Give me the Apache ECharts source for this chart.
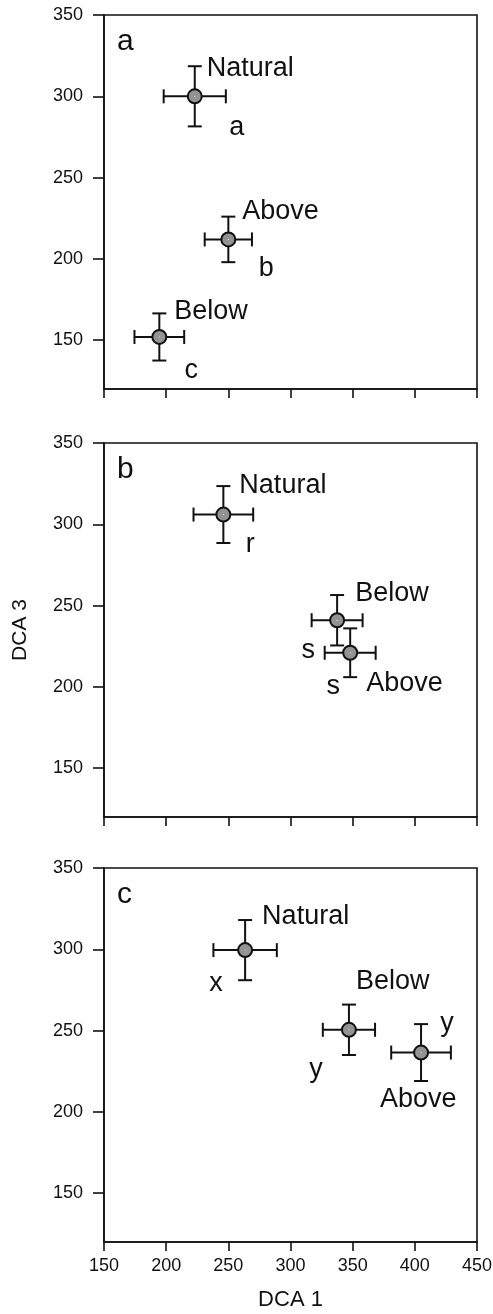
<!DOCTYPE html>
<html>
<head>
<meta charset="utf-8">
<script src="https://cdn.jsdelivr.net/npm/echarts@6/dist/echarts.min.js"></script>
<style>
html,body{margin:0;padding:0;background:#fff;}
#chart{width:493px;height:1314px;}
</style>
</head>
<body>
<div id="chart"></div>
<script>
// ---- data ----
const panelLetters = ['a', 'b', 'c'];
const siteNames = ['Natural', 'Above', 'Below'];
const xTicks = [150, 200, 250, 300, 350, 400, 450];
const yTicks = [150, 200, 250, 300, 350];
// DCA 1 means (per panel, order: Natural, Above, Below)
const dca1A = [223, 250, 194.5];
const dca1B = [246, 348, 337.5];
const dca1C = [263.5, 405, 347];
// DCA 3 means
const dca3A = [300, 212, 152];
const dca3B = [306, 221, 241];
const dca3C = [299.5, 236.5, 250.5];
// DCA 1 error (+/-)
const err1A = [25, 19, 20];
const err1B = [24, 20.5, 20.5];
const err1C = [25.5, 24, 21];
// DCA 3 error (+/-)
const err3A = [18.5, 14, 14.5];
const err3B = [17.5, 15, 15.5];
const err3C = [18.5, 17.5, 15.5];
// significance letters
const sigA = ['a', 'b', 'c'];
const sigB = ['r', 's', 's'];
const sigC = ['x', 'y', 'y'];

// ---- styling (label offsets relative to the point, in px) ----
const nameOffsets = [
  [[12, -28], [14, -28], [15, -25]],
  [[16, -29], [16, 31], [18, -27]],
  [[17, -34], [-41, 47], [7, -48]]
];
const sigOffsets = [
  [[42, 31], [38, 29], [32, 34]],
  [[27, 30], [-17, 34], [-29, 30]],
  [[-29, 33], [26, -29], [-33, 40]]
];

const panels = [
  {x: dca1A, y: dca3A, ex: err1A, ey: err3A, sig: sigA},
  {x: dca1B, y: dca3B, ex: err1B, ey: err3B, sig: sigB},
  {x: dca1C, y: dca3C, ex: err1C, ey: err3C, sig: sigC}
];
const gridTops = [15, 443, 868];
const gridH = 374;

const font = 'Liberation Sans, Arial, Helvetica, sans-serif';
const grids = [], xAxes = [], yAxes = [], series = [];

function textLabel(text, offset, align) {
  return {
    show: true, position: 'inside', align: align, verticalAlign: 'middle',
    offset: offset, formatter: text, opacity: 1,
    color: '#111', fontSize: 27, fontFamily: font,
    textBorderWidth: 0, textShadowBlur: 0
  };
}

panels.forEach((p, i) => {
  grids.push({
    left: 104, right: 16, top: gridTops[i], height: gridH,
    outerBoundsMode: 'none', containLabel: false,
    show: true, borderColor: '#111', borderWidth: 1.6, backgroundColor: 'transparent'
  });
  xAxes.push({
    type: 'value', gridIndex: i, min: 150, max: 450, interval: 50,
    axisLine: {show: true, onZero: false, lineStyle: {color: '#111', width: 1.6}},
    axisTick: {show: true, inside: false, length: 9, lineStyle: {color: '#111', width: 1.6}},
    axisLabel: {show: i === 2, color: '#111', fontSize: 18, fontFamily: font, margin: 15,
      formatter: v => xTicks.includes(v) ? String(v) : ''},
    splitLine: {show: false},
    name: i === 2 ? 'DCA 1' : '', nameLocation: 'middle', nameGap: 47,
    nameTextStyle: {color: '#111', fontSize: 22, fontFamily: font}
  });
  yAxes.push({
    type: 'value', gridIndex: i, min: 120, max: 350,
    interval: 50,
    customValues: yTicks,
    axisLine: {show: true, onZero: false, lineStyle: {color: '#111', width: 1.6}},
    axisTick: {show: true, inside: false, length: 11, lineStyle: {color: '#111', width: 1.6}, customValues: yTicks},
    axisLabel: {show: true, color: '#111', fontSize: 18, fontFamily: font, margin: 21, customValues: yTicks,
      formatter: v => String(v)},
    splitLine: {show: false},
    name: i === 1 ? 'DCA 3' : '', nameLocation: 'middle', nameGap: 73, nameRotate: 90,
    nameTextStyle: {color: '#111', fontSize: 21, fontFamily: font}
  });

  const pts = p.x.map((xv, k) => [xv, p.y[k], p.ex[k], p.ey[k]]);

  // error bars
  series.push({
    type: 'custom', xAxisIndex: i, yAxisIndex: i, z: 2,
    data: pts,
    renderItem: function (params, api) {
      const cx = api.value(0), cy = api.value(1), ex = api.value(2), ey = api.value(3);
      const c = api.coord([cx, cy]);
      const l = api.coord([cx - ex, cy]);
      const r = api.coord([cx + ex, cy]);
      const t = api.coord([cx, cy + ey]);
      const b = api.coord([cx, cy - ey]);
      const cap = 7;
      const st = {stroke: '#111', lineWidth: 2, fill: null};
      return {
        type: 'group',
        children: [
          {type: 'line', shape: {x1: l[0], y1: c[1], x2: r[0], y2: c[1]}, style: st},
          {type: 'line', shape: {x1: c[0], y1: t[1], x2: c[0], y2: b[1]}, style: st},
          {type: 'line', shape: {x1: l[0], y1: c[1] - cap, x2: l[0], y2: c[1] + cap}, style: st},
          {type: 'line', shape: {x1: r[0], y1: c[1] - cap, x2: r[0], y2: c[1] + cap}, style: st},
          {type: 'line', shape: {x1: c[0] - cap, y1: t[1], x2: c[0] + cap, y2: t[1]}, style: st},
          {type: 'line', shape: {x1: c[0] - cap, y1: b[1], x2: c[0] + cap, y2: b[1]}, style: st}
        ]
      };
    }
  });

  // markers with site-name labels
  series.push({
    type: 'scatter', xAxisIndex: i, yAxisIndex: i, z: 3,
    symbol: 'circle', symbolSize: 14,
    itemStyle: {color: '#939393', borderColor: '#111', borderWidth: 2, opacity: 1},
    data: pts.map((d, k) => ({
      value: [d[0], d[1]],
      label: textLabel(siteNames[k], nameOffsets[i][k], 'left')
    })),
    emphasis: {disabled: true}
  });

  // significance letters (labels on invisible points at the same coordinates)
  series.push({
    type: 'scatter', xAxisIndex: i, yAxisIndex: i, z: 4,
    symbol: 'circle', symbolSize: 1,
    itemStyle: {color: '#fff', opacity: 1, borderWidth: 0},
    data: pts.map((d, k) => ({
      value: [d[0], d[1]],
      label: textLabel(p.sig[k], sigOffsets[i][k], 'center')
    })),
    emphasis: {disabled: true}
  });
});

const chart = echarts.init(document.getElementById('chart'), null, {renderer: 'canvas'});
chart.setOption({
  animation: false,
  backgroundColor: '#fff',
  grid: grids,
  xAxis: xAxes,
  yAxis: yAxes,
  series: series,
  graphic: panelLetters.map((t, i) => ({
    type: 'text', left: 117, top: gridTops[i] + 12,
    style: {text: t, fontSize: 30, fontFamily: font, fill: '#111'}
  }))
});
</script>
</body>
</html>
